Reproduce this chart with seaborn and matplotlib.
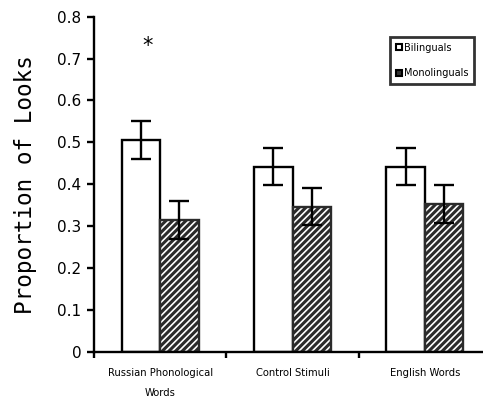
import pandas as pd
import seaborn as sns
import matplotlib.pyplot as plt
from matplotlib.patches import Patch
from matplotlib.ticker import FixedLocator

# Values
conditions = ["Russian Phonological\nWords", "Control Stimuli", "English Words"]
groups = ["Bilinguals", "Monolinguals"]
bilingual_means = [0.505, 0.442, 0.442]
monolingual_means = [0.314, 0.346, 0.352]
bilingual_err = [0.045, 0.045, 0.045]
monolingual_err = [0.045, 0.044, 0.045]
star_value = 0.73

df = pd.DataFrame({
    "condition": conditions * 2,
    "group": [groups[0]] * 3 + [groups[1]] * 3,
    "prop": bilingual_means + monolingual_means,
    "err": bilingual_err + monolingual_err,
})

sns.set_style("ticks")
plt.rcParams['font.family'] = ['DejaVu Sans']
plt.rcParams['hatch.linewidth'] = 2.2
plt.rcParams['text.color'] = 'black'
plt.rcParams['xtick.color'] = 'black'
plt.rcParams['ytick.color'] = 'black'
plt.rcParams['axes.labelcolor'] = 'black'

fig = plt.figure(figsize=(4.83, 3.99), dpi=100)
ax = fig.add_axes([94 / 483, 47.3 / 399, 397 / 483, 335 / 399])

sns.barplot(data=df, x="condition", y="prop", hue="group", order=conditions,
            hue_order=groups, palette=["white", "white"], width=0.58,
            errorbar=None, legend=False, ax=ax)

# style bars: first hue plain, second hatched
n = len(conditions)
for i, p in enumerate(ax.patches[:2 * n]):
    p.set_linewidth(1.7)
    if i < n:
        p.set_edgecolor("black")
    else:
        p.set_edgecolor("#2b2b2b")
        p.set_hatch("/////")

# error bars at the centres of the bars
for p, (_, row) in zip(ax.patches[:2 * n], df.iterrows()):
    xc = p.get_x() + p.get_width() / 2
    ax.errorbar(xc, row["prop"], yerr=row["err"], color="black",
                elinewidth=1.7, capsize=7.5, capthick=1.7, zorder=5)

# significance marker over the first bilingual bar
p0 = ax.patches[0]
ax.text(p0.get_x() + p0.get_width() * 0.67, star_value, "*",
        ha="center", va="center", fontsize=15)

ax.set_ylim(0, 0.8)
ax.set_xlim(-0.5, n - 0.5)
ax.set_yticks([0, 0.1, 0.2, 0.3, 0.4, 0.5, 0.6, 0.7, 0.8])
ax.set_yticklabels(["0", "0.1", "0.2", "0.3", "0.4", "0.5", "0.6", "0.7", "0.8"])
ax.xaxis.set_minor_locator(FixedLocator([-0.5, 0.5, 1.5, 2.5]))
ax.tick_params(axis="x", which="major", length=0, labelsize=7.2, pad=12)
ax.tick_params(axis="x", which="minor", length=4, width=1.7, direction="out")
ax.tick_params(axis="y", length=5, width=1.7, labelsize=11, pad=4)
for lab in ax.get_xticklabels():
    lab.set_linespacing(2.2)
    lab.set_va("top")

sns.despine(ax=ax)
for s in ["left", "bottom"]:
    ax.spines[s].set_linewidth(1.7)
    ax.spines[s].set_color("black")

ax.set_xlabel("")
ax.set_ylabel("Proportion of Looks", fontsize=16.3, family="DejaVu Sans Mono")
ax.yaxis.set_label_coords(-0.143, 0.5)

handles = [Patch(facecolor="white", edgecolor="black", linewidth=1.5),
           Patch(facecolor="#333333", edgecolor="black", linewidth=1.5)]
leg = fig.legend(handles, groups, loc="upper right",
                 bbox_to_anchor=(474 / 483, 1 - 36.7 / 399),
                 fontsize=7, handlelength=0.6, handleheight=0.6,
                 handletextpad=0.2, labelspacing=1.6, borderpad=0.6,
                 fancybox=False, frameon=True, borderaxespad=0)
leg.get_frame().set_edgecolor("black")
leg.get_frame().set_linewidth(2)

fig.savefig("out.png", dpi=100)
